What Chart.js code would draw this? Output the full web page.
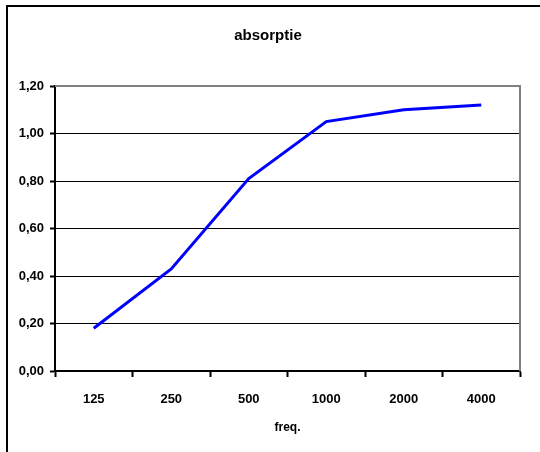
<!DOCTYPE html>
<html lang="nl">
<head>
    <meta charset="UTF-8">
    <title>absorptie</title>
    <script src="https://cdn.jsdelivr.net/npm/chart.js"></script>
    <style>
        body { margin: 0; background: #fff; }
        #wrap { width: 540px; height: 452px; }
    </style>
</head>
<body>
    <div id="wrap"><canvas id="absChart" width="540" height="452"></canvas></div>

    <script>
        // frequenties (Hz) en absorptie
        const freqs = ['125', '250', '500', '1000', '2000', '4000'];
        const absorptie = [0.18, 0.43, 0.81, 1.05, 1.10, 1.12];
        const yMin = 0, yMax = 1.2, yStep = 0.2;

        const font = '"Liberation Sans", Arial, sans-serif';

        // kader rond de grafiek en grijze rand om het plotgebied
        const frames = {
            id: 'frames',
            beforeDatasetsDraw(chart) {
                const ctx = chart.ctx, a = chart.chartArea;
                ctx.save();
                ctx.strokeStyle = '#808080';
                ctx.lineWidth = 2;
                ctx.beginPath();
                ctx.moveTo(a.left, a.top);
                ctx.lineTo(a.right, a.top);
                ctx.lineTo(a.right, a.bottom);
                ctx.stroke();
                ctx.restore();
            },
            afterDraw(chart) {
                const ctx = chart.ctx;
                ctx.save();
                ctx.strokeStyle = '#000';
                ctx.lineWidth = 2;
                ctx.strokeRect(7, 6, 560, 470);
                ctx.restore();
            }
        };

        new Chart(document.getElementById('absChart'), {
            type: 'line',
            data: {
                labels: freqs,
                datasets: [{
                    label: 'absorptie',
                    data: absorptie,
                    borderColor: '#0000ff',
                    borderWidth: 3,
                    pointRadius: 0,
                    tension: 0,
                    fill: false
                }]
            },
            options: {
                responsive: false,
                animation: false,
                layout: { padding: { left: 16, right: 20, top: 0, bottom: 0 } },
                plugins: {
                    legend: { display: false },
                    tooltip: { enabled: false },
                    title: {
                        display: true,
                        text: 'absorptie',
                        color: '#000',
                        font: { family: font, size: 15, weight: 'bold' },
                        padding: { top: 27, bottom: 41 }
                    }
                },
                scales: {
                    x: {
                        offset: true,
                        grid: {
                            offset: true,
                            drawOnChartArea: false,
                            drawTicks: true,
                            tickLength: 6,
                            tickWidth: 2,
                            tickColor: '#000'
                        },
                        border: { color: '#000', width: 2 },
                        ticks: {
                            color: '#000',
                            padding: 15,
                            maxRotation: 0,
                            font: { family: font, size: 13, weight: 'bold' }
                        },
                        title: {
                            display: true,
                            text: 'freq.',
                            color: '#000',
                            font: { family: font, size: 12, weight: 'bold' },
                            padding: { top: 0, bottom: 17 }
                        },
                        afterFit(s) { s.height = 81; }
                    },
                    y: {
                        min: yMin,
                        max: yMax,
                        grid: {
                            color: '#000',
                            lineWidth: 1,
                            tickLength: 5,
                            tickWidth: 2,
                            tickColor: '#000'
                        },
                        border: { color: '#000', width: 2 },
                        ticks: {
                            stepSize: yStep,
                            color: '#000',
                            padding: 6,
                            font: { family: font, size: 13, weight: 'bold' },
                            callback: v => v.toFixed(2).replace('.', ',')
                        },
                        afterFit(s) { s.width = 39; }
                    }
                }
            },
            plugins: [frames]
        });
    </script>
</body>
</html>
